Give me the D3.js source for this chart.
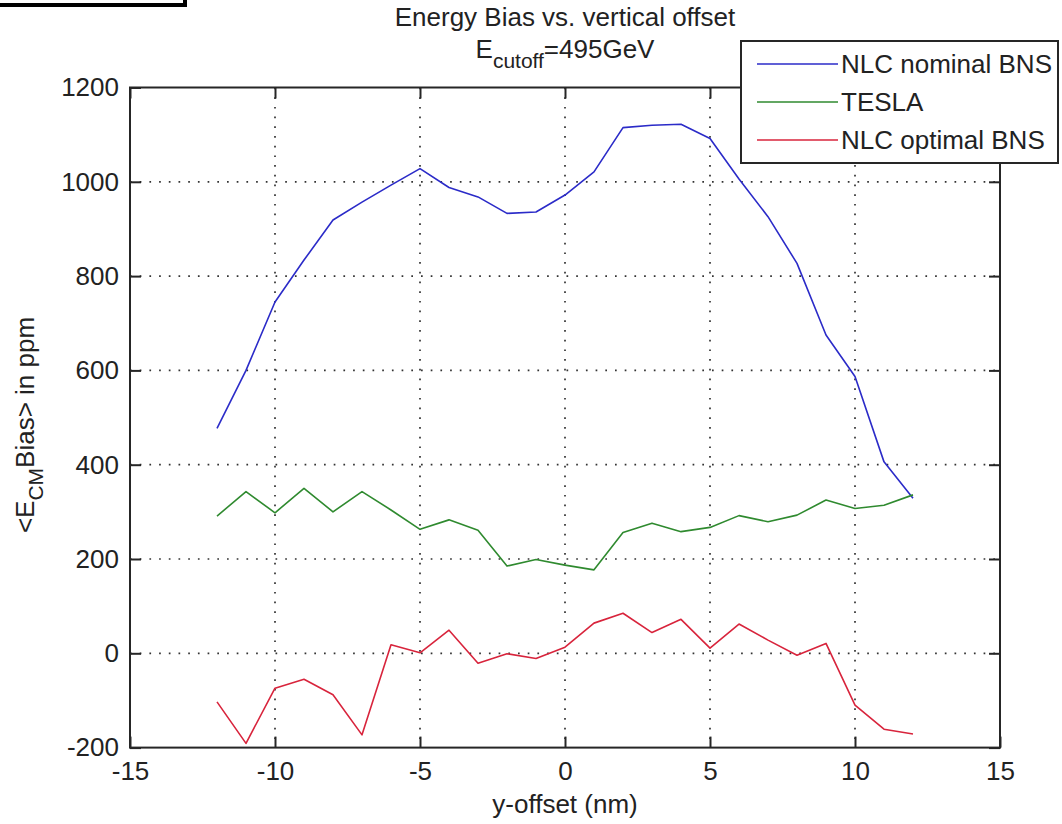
<!DOCTYPE html>
<html>
<head>
<meta charset="utf-8">
<script src="https://cdn.jsdelivr.net/npm/d3@7"></script>
<style>
  html, body { margin: 0; padding: 0; background: #fff; }
  svg { display: block; font-family: "Liberation Sans", Arial, sans-serif; }
</style>
</head>
<body>
<div id="chart"></div>
<script>
// data
const yOffset = [-12, -11, -10, -9, -8, -7, -6, -5, -4, -3, -2, -1, 0, 1, 2, 3, 4, 5, 6, 7, 8, 9, 10, 11, 12];
const nlcNominal = [477, 600, 745, 834, 919, 957, 993, 1028, 988, 968, 933, 936, 972, 1021, 1115, 1120, 1122, 1092, 1006, 926, 827, 675, 587, 406, 329];
const tesla = [291, 343, 298, 350, 300, 343, 304, 263, 283, 261, 185, 199, 187, 177, 256, 276, 258, 267, 292, 279, 293, 325, 307, 314, 336];
const nlcOptimal = [-103, -191, -74, -55, -88, -173, 18, 1, 49, -21, -1, -11, 13, 64, 85, 44, 72, 11, 62, 28, -4, 21, -110, -161, -171];

const xTicks = [-15, -10, -5, 0, 5, 10, 15];
const yTicks = [-200, 0, 200, 400, 600, 800, 1000, 1200];

const seriesNames = ['NLC nominal BNS', 'TESLA', 'NLC optimal BNS'];
const seriesColors = ['#2b2bc8', '#2f8a2f', '#d8243c'];

const width = 1062;
const height = 824;
const plot = { l: 130, r: 1000, t: 87.5, b: 747.6 };
const fontSize = 26;
const tickLen = 11;
const ink = '#262626';
const textInk = '#222';

const svg = d3.select('#chart').append('svg')
  .attr('width', width)
  .attr('height', height);

svg.append('rect')
  .attr('width', width)
  .attr('height', height)
  .attr('fill', '#fff');

const x = d3.scaleLinear().domain([-15, 15]).range([plot.l, plot.r]);
const y = d3.scaleLinear().domain([-200, 1200]).range([plot.b, plot.t]);

// dotted grid
const grid = svg.append('g').attr('class', 'grid');
grid.selectAll('line.gx')
  .data(xTicks.slice(1, -1))
  .join('line')
  .attr('class', 'gx')
  .attr('x1', (d) => x(d))
  .attr('x2', (d) => x(d))
  .attr('y1', plot.t)
  .attr('y2', plot.b)
  .attr('stroke', '#333')
  .attr('stroke-width', 1.7)
  .attr('stroke-dasharray', '1.7,8');
grid.selectAll('line.gy')
  .data(yTicks.slice(1, -1))
  .join('line')
  .attr('class', 'gy')
  .attr('x1', plot.l)
  .attr('x2', plot.r)
  .attr('y1', (d) => y(d))
  .attr('y2', (d) => y(d))
  .attr('stroke', '#333')
  .attr('stroke-width', 1.7)
  .attr('stroke-dasharray', '1.7,8');

// series
const allSeries = [nlcNominal, tesla, nlcOptimal];
const line = d3.line()
  .x((d, i) => x(yOffset[i]))
  .y((d) => y(d));
svg.append('g').attr('class', 'lines')
  .selectAll('path')
  .data(allSeries)
  .join('path')
  .attr('d', (d) => line(d))
  .attr('fill', 'none')
  .attr('stroke', (d, i) => seriesColors[i])
  .attr('stroke-width', 1.6)
  .attr('stroke-linejoin', 'round');

// axes box
svg.append('rect')
  .attr('x', plot.l)
  .attr('y', plot.t)
  .attr('width', plot.r - plot.l)
  .attr('height', plot.b - plot.t)
  .attr('fill', 'none')
  .attr('stroke', ink)
  .attr('stroke-width', 2);

// bottom + top ticks
const xAxis = (g) => g
  .attr('transform', `translate(0,${plot.b})`)
  .call(d3.axisBottom(x).tickValues(xTicks).tickSizeInner(-tickLen).tickSizeOuter(0).tickPadding(14))
  .call((gr) => gr.select('.domain').remove());
svg.append('g').call(xAxis)
  .call((g) => g.selectAll('line').attr('stroke', ink).attr('stroke-width', 2))
  .selectAll('text')
  .attr('font-size', fontSize)
  .attr('font-family', '"Liberation Sans", Arial, sans-serif')
  .attr('fill', textInk)
  .text((d) => d);
svg.append('g')
  .attr('transform', `translate(0,${plot.t})`)
  .call(d3.axisTop(x).tickValues(xTicks).tickSizeInner(-tickLen).tickSizeOuter(0).tickFormat(''))
  .call((g) => g.select('.domain').remove())
  .selectAll('line').attr('stroke', ink).attr('stroke-width', 2);

// left + right ticks
const yAxis = (g) => g
  .attr('transform', `translate(${plot.l},0)`)
  .call(d3.axisLeft(y).tickValues(yTicks).tickSizeInner(-tickLen).tickSizeOuter(0).tickPadding(11))
  .call((gr) => gr.select('.domain').remove());
svg.append('g').call(yAxis)
  .call((g) => g.selectAll('line').attr('stroke', ink).attr('stroke-width', 2))
  .selectAll('text')
  .attr('font-size', fontSize)
  .attr('font-family', '"Liberation Sans", Arial, sans-serif')
  .attr('fill', textInk)
  .text((d) => d);
svg.append('g')
  .attr('transform', `translate(${plot.r},0)`)
  .call(d3.axisRight(y).tickValues(yTicks).tickSizeInner(-tickLen).tickSizeOuter(0).tickFormat(''))
  .call((g) => g.select('.domain').remove())
  .selectAll('line').attr('stroke', ink).attr('stroke-width', 2);

// titles
const cx = (plot.l + plot.r) / 2;
svg.append('text')
  .attr('x', cx)
  .attr('y', 26)
  .attr('text-anchor', 'middle')
  .attr('font-size', fontSize)
  .attr('fill', textInk)
  .text('Energy Bias vs. vertical offset');
const sub = svg.append('text')
  .attr('x', cx)
  .attr('y', 58)
  .attr('text-anchor', 'middle')
  .attr('font-size', fontSize)
  .attr('fill', textInk);
sub.append('tspan').text('E');
sub.append('tspan').attr('dy', 10).attr('font-size', 21).text('cutoff');
sub.append('tspan').attr('dy', -10).text('=495GeV');

svg.append('text')
  .attr('x', cx)
  .attr('y', 813)
  .attr('text-anchor', 'middle')
  .attr('font-size', fontSize)
  .attr('fill', textInk)
  .text('y-offset (nm)');

const yl = svg.append('text')
  .attr('transform', `translate(34,425) rotate(-90)`)
  .attr('text-anchor', 'middle')
  .attr('font-size', fontSize)
  .attr('fill', textInk);
yl.append('tspan').text('<E');
yl.append('tspan').attr('dy', 9).attr('font-size', 21).text('CM');
yl.append('tspan').attr('dy', -9).text('Bias> in ppm');

// legend
const legend = svg.append('g').attr('class', 'legend');
legend.append('rect')
  .attr('x', 741)
  .attr('y', 41)
  .attr('width', 317)
  .attr('height', 122)
  .attr('fill', '#fff')
  .attr('stroke', ink)
  .attr('stroke-width', 2);
const rows = legend.selectAll('g.row')
  .data(seriesNames)
  .join('g')
  .attr('class', 'row')
  .attr('transform', (d, i) => `translate(0,${64 + i * 38})`);
rows.append('line')
  .attr('x1', 757)
  .attr('x2', 838)
  .attr('stroke', (d, i) => seriesColors[i])
  .attr('stroke-width', 1.6);
rows.append('text')
  .attr('x', 841)
  .attr('dy', '0.35em')
  .attr('font-size', fontSize)
  .attr('fill', textInk)
  .text((d) => d);

// stray frame at the top-left corner
svg.append('rect')
  .attr('x', -6)
  .attr('y', -6)
  .attr('width', 191)
  .attr('height', 11)
  .attr('fill', '#fff')
  .attr('stroke', '#000')
  .attr('stroke-width', 4);
</script>
</body>
</html>
